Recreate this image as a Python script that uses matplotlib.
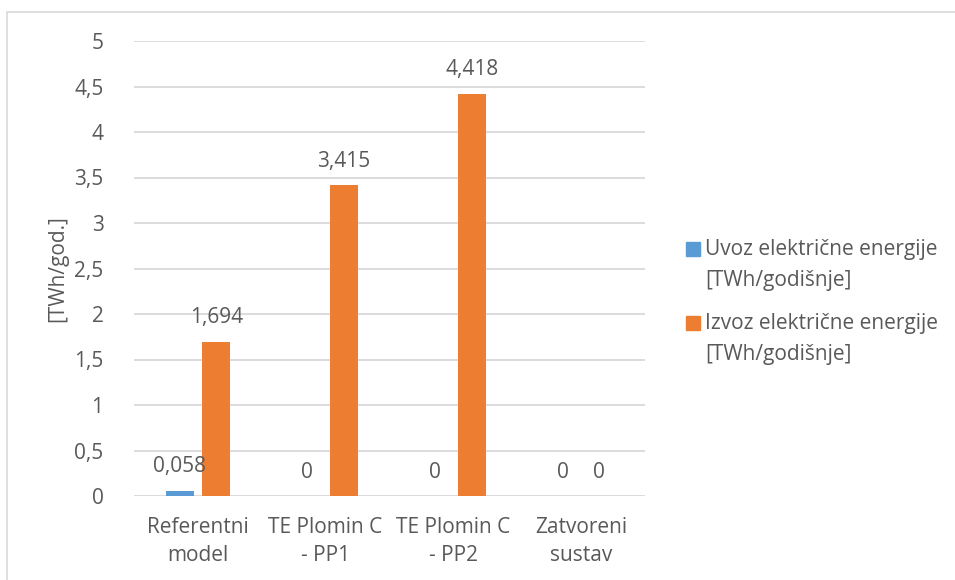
import numpy as np
import matplotlib; matplotlib.use("Agg")
import matplotlib.pyplot as plt
from matplotlib.patches import Rectangle

plt.rcParams["font.family"] = ["Open Sans", "DejaVu Sans"]

categories = ["Referentni\nmodel", "TE Plomin C\n- PP1", "TE Plomin C\n- PP2", "Zatvoreni\nsustav"]
uvoz = [0.058, 0, 0, 0]
izvoz = [1.694, 3.415, 4.418, 0]
labels = ["Uvoz električne energije\n[TWh/godišnje]", "Izvoz električne energije\n[TWh/godišnje]"]
yticks = [0, 0.5, 1, 1.5, 2, 2.5, 3, 3.5, 4, 4.5, 5]

BLUE = "#5B9BD5"; ORANGE = "#ED7D31"; TXT = "#595959"; GRID = "#D9D9D9"
FS = 15

fig = plt.figure(figsize=(9.55, 5.8), dpi=100)
ax = fig.add_axes([134/955, 1-496/580, 511/955, 455/580])

x = np.arange(len(categories))
w, off = 0.219, 0.143
b1 = ax.bar(x - off, uvoz, w, color=BLUE, zorder=3)
b2 = ax.bar(x + off, izvoz, w, color=ORANGE, zorder=3)

def fmt(v):
    return "0" if v == 0 else f"{v:.3f}".replace(".", ",")

for bars, vals in ((b1, uvoz), (b2, izvoz)):
    for r, v in zip(bars, vals):
        ax.annotate(fmt(v), (r.get_x() + r.get_width()/2, v), xytext=(0, 24),
                    textcoords="offset pixels", ha="center", va="center",
                    fontsize=FS, color=TXT)

ax.set_xlim(-0.5, len(categories) - 0.5)
ax.set_ylim(0, 5)
ax.set_yticks(yticks)
ax.set_yticklabels([f"{t:g}".replace(".", ",") for t in yticks])
ax.set_xticks(x)
ax.set_xticklabels(categories, linespacing=1.45)
ax.tick_params(axis="both", length=0, labelsize=FS, labelcolor=TXT)
ax.tick_params(axis="y", pad=22)
ax.tick_params(axis="x", pad=15)
for s in ax.spines.values():
    s.set_visible(False)
ax.grid(axis="y", color=GRID, lw=1.3, zorder=0)
ax.set_axisbelow(True)
fig.text(58/955, 1 - 269/580, "[TWh/god.]", rotation=90, ha="center", va="center",
         fontsize=FS, color=TXT)

# legend drawn by hand so the square sits on the first text line
for i, (lab, col) in enumerate(zip(labels, [BLUE, ORANGE])):
    ymid = 249 + i * 74
    fig.patches.append(Rectangle((686/955, 1 - (ymid + 7)/580), 14/955, 14/580,
                                 transform=fig.transFigure, color=col))
    fig.text(705/955, 1 - (ymid - 10)/580, lab, fontsize=FS, color=TXT,
             va="top", ha="left", linespacing=1.65)

# chart frame
fig.patches.append(Rectangle((7/955, -0.1), 1.2, 1 - 12/580 + 0.1, transform=fig.transFigure,
                             fill=False, ec=GRID, lw=1.2))

fig.savefig("out.png", dpi=100)
